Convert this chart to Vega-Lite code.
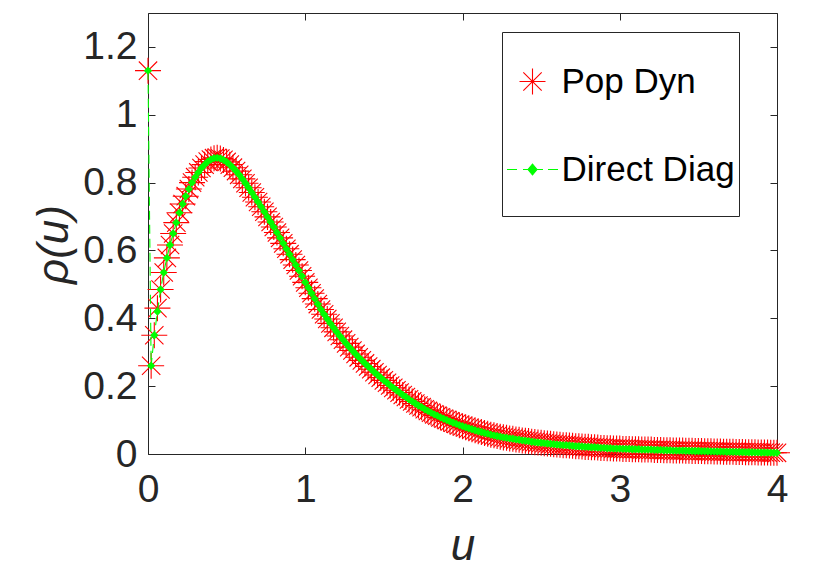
{
  "$schema": "https://vega.github.io/schema/vega-lite/v6.json",
  "width": 629,
  "height": 441,
  "autosize": {"type": "none"},
  "padding": {"left": 148, "top": 13, "right": 42, "bottom": 113},
  "background": "white",
  "config": {"view": {"stroke": "#262626", "strokeWidth": 1}, "font": "Liberation Sans"},
  "data": {"values": [
    {"u":0,"pop":1.13,"diag":1.13},{"u":0.02,"pop":0.26,"diag":0.26},{"u":0.04,"pop":0.35,"diag":0.35},{"u":0.06,"pop":0.43,"diag":0.42},{"u":0.08,"pop":0.485,"diag":0.485},
    {"u":0.1,"pop":0.535,"diag":0.535},{"u":0.12,"pop":0.578,"diag":0.578},{"u":0.14,"pop":0.616,"diag":0.616},{"u":0.16,"pop":0.65,"diag":0.65},{"u":0.18,"pop":0.682,"diag":0.682},
    {"u":0.2,"pop":0.711,"diag":0.711},{"u":0.22,"pop":0.737,"diag":0.737},{"u":0.24,"pop":0.76,"diag":0.76},{"u":0.26,"pop":0.781,"diag":0.781},{"u":0.28,"pop":0.8,"diag":0.8},
    {"u":0.3,"pop":0.816,"diag":0.816},{"u":0.32,"pop":0.83,"diag":0.83},{"u":0.34,"pop":0.843,"diag":0.843},{"u":0.36,"pop":0.853,"diag":0.853},{"u":0.38,"pop":0.862,"diag":0.862},
    {"u":0.4,"pop":0.868,"diag":0.868},{"u":0.42,"pop":0.872,"diag":0.872},{"u":0.44,"pop":0.873,"diag":0.873},{"u":0.46,"pop":0.871,"diag":0.871},{"u":0.48,"pop":0.867,"diag":0.867},
    {"u":0.5,"pop":0.861,"diag":0.861},{"u":0.52,"pop":0.853,"diag":0.853},{"u":0.54,"pop":0.844,"diag":0.844},{"u":0.56,"pop":0.834,"diag":0.834},{"u":0.58,"pop":0.823,"diag":0.823},
    {"u":0.6,"pop":0.811,"diag":0.811},{"u":0.62,"pop":0.798,"diag":0.798},{"u":0.64,"pop":0.785,"diag":0.785},{"u":0.66,"pop":0.771,"diag":0.771},{"u":0.68,"pop":0.757,"diag":0.757},
    {"u":0.7,"pop":0.743,"diag":0.743},{"u":0.72,"pop":0.729,"diag":0.729},{"u":0.74,"pop":0.714,"diag":0.714},{"u":0.76,"pop":0.699,"diag":0.699},{"u":0.78,"pop":0.684,"diag":0.684},
    {"u":0.8,"pop":0.669,"diag":0.669},{"u":0.82,"pop":0.653,"diag":0.653},{"u":0.84,"pop":0.637,"diag":0.637},{"u":0.86,"pop":0.621,"diag":0.621},{"u":0.88,"pop":0.605,"diag":0.605},
    {"u":0.9,"pop":0.589,"diag":0.589},{"u":0.92,"pop":0.573,"diag":0.573},{"u":0.94,"pop":0.557,"diag":0.557},{"u":0.96,"pop":0.541,"diag":0.541},{"u":0.98,"pop":0.524,"diag":0.524},
    {"u":1,"pop":0.506,"diag":0.506},{"u":1.02,"pop":0.49,"diag":0.49},{"u":1.04,"pop":0.474,"diag":0.474},{"u":1.06,"pop":0.458,"diag":0.458},{"u":1.08,"pop":0.442,"diag":0.442},
    {"u":1.1,"pop":0.426,"diag":0.426},{"u":1.12,"pop":0.412,"diag":0.412},{"u":1.14,"pop":0.398,"diag":0.398},{"u":1.16,"pop":0.385,"diag":0.385},{"u":1.18,"pop":0.372,"diag":0.372},
    {"u":1.2,"pop":0.36,"diag":0.36},{"u":1.22,"pop":0.348,"diag":0.348},{"u":1.24,"pop":0.337,"diag":0.337},{"u":1.26,"pop":0.326,"diag":0.326},{"u":1.28,"pop":0.315,"diag":0.315},
    {"u":1.3,"pop":0.305,"diag":0.305},{"u":1.32,"pop":0.295,"diag":0.295},{"u":1.34,"pop":0.285,"diag":0.285},{"u":1.36,"pop":0.276,"diag":0.276},{"u":1.38,"pop":0.267,"diag":0.267},
    {"u":1.4,"pop":0.258,"diag":0.258},{"u":1.42,"pop":0.25,"diag":0.25},{"u":1.44,"pop":0.241,"diag":0.241},{"u":1.46,"pop":0.233,"diag":0.233},{"u":1.48,"pop":0.225,"diag":0.225},
    {"u":1.5,"pop":0.217,"diag":0.217},{"u":1.52,"pop":0.21,"diag":0.21},{"u":1.54,"pop":0.202,"diag":0.202},{"u":1.56,"pop":0.195,"diag":0.195},{"u":1.58,"pop":0.188,"diag":0.188},
    {"u":1.6,"pop":0.181,"diag":0.181},{"u":1.62,"pop":0.174,"diag":0.174},{"u":1.64,"pop":0.168,"diag":0.168},{"u":1.66,"pop":0.161,"diag":0.161},{"u":1.68,"pop":0.155,"diag":0.155},
    {"u":1.7,"pop":0.149,"diag":0.149},{"u":1.72,"pop":0.143,"diag":0.143},{"u":1.74,"pop":0.138,"diag":0.138},{"u":1.76,"pop":0.132,"diag":0.132},{"u":1.78,"pop":0.127,"diag":0.127},
    {"u":1.8,"pop":0.122,"diag":0.122},{"u":1.82,"pop":0.117,"diag":0.117},{"u":1.84,"pop":0.113,"diag":0.113},{"u":1.86,"pop":0.108,"diag":0.108},{"u":1.88,"pop":0.104,"diag":0.104},
    {"u":1.9,"pop":0.1,"diag":0.1},{"u":1.92,"pop":0.096,"diag":0.096},{"u":1.94,"pop":0.092,"diag":0.092},{"u":1.96,"pop":0.089,"diag":0.089},{"u":1.98,"pop":0.085,"diag":0.085},
    {"u":2,"pop":0.082,"diag":0.082},{"u":2.02,"pop":0.079,"diag":0.079},{"u":2.04,"pop":0.076,"diag":0.076},{"u":2.06,"pop":0.073,"diag":0.073},{"u":2.08,"pop":0.07,"diag":0.07},
    {"u":2.1,"pop":0.067,"diag":0.067},{"u":2.12,"pop":0.065,"diag":0.065},{"u":2.14,"pop":0.062,"diag":0.062},{"u":2.16,"pop":0.06,"diag":0.06},{"u":2.18,"pop":0.057,"diag":0.057},
    {"u":2.2,"pop":0.055,"diag":0.055},{"u":2.22,"pop":0.053,"diag":0.053},{"u":2.24,"pop":0.051,"diag":0.051},{"u":2.26,"pop":0.049,"diag":0.049},{"u":2.28,"pop":0.048,"diag":0.048},
    {"u":2.3,"pop":0.046,"diag":0.046},{"u":2.32,"pop":0.045,"diag":0.045},{"u":2.34,"pop":0.043,"diag":0.043},{"u":2.36,"pop":0.042,"diag":0.042},{"u":2.38,"pop":0.04,"diag":0.04},
    {"u":2.4,"pop":0.039,"diag":0.039},{"u":2.42,"pop":0.038,"diag":0.038},{"u":2.44,"pop":0.036,"diag":0.036},{"u":2.46,"pop":0.035,"diag":0.035},{"u":2.48,"pop":0.034,"diag":0.034},
    {"u":2.5,"pop":0.033,"diag":0.033},{"u":2.52,"pop":0.032,"diag":0.032},{"u":2.54,"pop":0.031,"diag":0.031},{"u":2.56,"pop":0.03,"diag":0.03},{"u":2.58,"pop":0.029,"diag":0.029},
    {"u":2.6,"pop":0.028,"diag":0.028},{"u":2.62,"pop":0.027,"diag":0.027},{"u":2.64,"pop":0.026,"diag":0.026},{"u":2.66,"pop":0.026,"diag":0.026},{"u":2.68,"pop":0.025,"diag":0.025},
    {"u":2.7,"pop":0.024,"diag":0.024},{"u":2.72,"pop":0.023,"diag":0.023},{"u":2.74,"pop":0.023,"diag":0.023},{"u":2.76,"pop":0.022,"diag":0.022},{"u":2.78,"pop":0.021,"diag":0.021},
    {"u":2.8,"pop":0.021,"diag":0.021},{"u":2.82,"pop":0.02,"diag":0.02},{"u":2.84,"pop":0.02,"diag":0.02},{"u":2.86,"pop":0.019,"diag":0.019},{"u":2.88,"pop":0.018,"diag":0.018},
    {"u":2.9,"pop":0.018,"diag":0.018},{"u":2.92,"pop":0.017,"diag":0.017},{"u":2.94,"pop":0.017,"diag":0.017},{"u":2.96,"pop":0.016,"diag":0.016},{"u":2.98,"pop":0.016,"diag":0.016},
    {"u":3,"pop":0.016,"diag":0.016},{"u":3.02,"pop":0.015,"diag":0.015},{"u":3.04,"pop":0.015,"diag":0.015},{"u":3.06,"pop":0.015,"diag":0.015},{"u":3.08,"pop":0.014,"diag":0.014},
    {"u":3.1,"pop":0.014,"diag":0.014},{"u":3.12,"pop":0.014,"diag":0.014},{"u":3.14,"pop":0.013,"diag":0.013},{"u":3.16,"pop":0.013,"diag":0.013},{"u":3.18,"pop":0.013,"diag":0.013},
    {"u":3.2,"pop":0.013,"diag":0.013},{"u":3.22,"pop":0.012,"diag":0.012},{"u":3.24,"pop":0.012,"diag":0.012},{"u":3.26,"pop":0.012,"diag":0.012},{"u":3.28,"pop":0.011,"diag":0.011},
    {"u":3.3,"pop":0.011,"diag":0.011},{"u":3.32,"pop":0.011,"diag":0.011},{"u":3.34,"pop":0.01,"diag":0.01},{"u":3.36,"pop":0.01,"diag":0.01},{"u":3.38,"pop":0.01,"diag":0.01},
    {"u":3.4,"pop":0.01,"diag":0.01},{"u":3.42,"pop":0.0097,"diag":0.0097},{"u":3.44,"pop":0.0094,"diag":0.0094},{"u":3.46,"pop":0.0092,"diag":0.0092},{"u":3.48,"pop":0.009,"diag":0.009},
    {"u":3.5,"pop":0.0088,"diag":0.0088},{"u":3.52,"pop":0.0086,"diag":0.0086},{"u":3.54,"pop":0.0083,"diag":0.0083},{"u":3.56,"pop":0.0081,"diag":0.0081},{"u":3.58,"pop":0.0078,"diag":0.0078},
    {"u":3.6,"pop":0.0076,"diag":0.0076},{"u":3.62,"pop":0.0074,"diag":0.0074},{"u":3.64,"pop":0.0072,"diag":0.0072},{"u":3.66,"pop":0.0069,"diag":0.0069},{"u":3.68,"pop":0.0067,"diag":0.0067},
    {"u":3.7,"pop":0.0065,"diag":0.0065},{"u":3.72,"pop":0.0063,"diag":0.0063},{"u":3.74,"pop":0.0061,"diag":0.0061},{"u":3.76,"pop":0.0059,"diag":0.0059},{"u":3.78,"pop":0.0057,"diag":0.0057},
    {"u":3.8,"pop":0.0055,"diag":0.0055},{"u":3.82,"pop":0.0053,"diag":0.0053},{"u":3.84,"pop":0.0051,"diag":0.0051},{"u":3.86,"pop":0.0049,"diag":0.0049},{"u":3.88,"pop":0.0047,"diag":0.0047},
    {"u":3.9,"pop":0.0045,"diag":0.0045},{"u":3.92,"pop":0.0043,"diag":0.0043},{"u":3.94,"pop":0.0041,"diag":0.0041},{"u":3.96,"pop":0.0039,"diag":0.0039},{"u":3.98,"pop":0.0037,"diag":0.0037},
    {"u":4,"pop":0.0035,"diag":0.0035}
  ]},
  "layer": [
    {
      "mark": {"type": "point", "filled": true, "strokeWidth": 1.1, "size": 8100, "opacity": 1},
      "encoding": {
        "x": {"field": "u", "type": "quantitative", "scale": {"domain": [0, 4], "nice": false, "zero": false},
          "axis": {"orient": "bottom", "values": [0, 1, 2, 3, 4], "format": "d", "grid": false, "domain": false,
            "labelFontSize": 39, "labelFont": "Liberation Sans", "labelColor": "#262626", "labelPadding": 23, "labelFlush": false, "labelOverlap": false,
            "tickSize": -7, "tickColor": "#262626", "tickWidth": 1,
            "title": "u", "titleFont": "Liberation Sans", "titleFontSize": 44, "titleFontStyle": "italic", "titleFontWeight": "normal", "titleColor": "#262626",
            "titleBaseline": "alphabetic", "titleAnchor": "middle", "titleX": 314.5, "titleY": 105}},
        "y": {"field": "pop", "type": "quantitative", "scale": {"domain": [0, 1.3], "nice": false, "zero": false},
          "axis": {"orient": "left", "values": [0, 0.2, 0.4, 0.6, 0.8, 1, 1.2], "format": "~g", "grid": false, "domain": false,
            "labelFontSize": 39, "labelFont": "Liberation Sans", "labelColor": "#262626", "labelPadding": 18, "labelFlush": false, "labelOverlap": false,
            "tickSize": -7, "tickColor": "#262626", "tickWidth": 1,
            "title": "ρ(u)", "titleFont": "Liberation Sans", "titleFontSize": 44, "titleFontStyle": "italic", "titleFontWeight": "normal", "titleColor": "#262626",
            "titleAngle": 270, "titleBaseline": "alphabetic", "titleAnchor": "middle", "titleX": -81, "titleY": 231}},
        "stroke": {"datum": "Pop Dyn", "scale": {"domain": ["Pop Dyn", "Direct Diag"], "range": ["#ff0000", "#00ff00"]}},
        "fill": {"datum": "Pop Dyn", "scale": {"domain": ["Pop Dyn", "Direct Diag"], "range": ["transparent", "#00ff00"]}},
        "shape": {"datum": "Pop Dyn",
          "scale": {"domain": ["Pop Dyn", "Direct Diag"],
            "range": ["M-0.289,0L0.289,0M0,-0.289L0,0.289M-0.204,-0.204L0.204,0.204M-0.204,0.204L0.204,-0.204",
                      "M-0.567,0L-0.344,0M-0.211,0L-0.1,0M0.1,0L0.233,0M0.344,0L0.567,0M0,-0.122L0.1,0L0,0.122L-0.1,0Z"]},
          "legend": {"orient": "none", "legendX": 354, "legendY": 19, "title": " ", "titleOrient": "bottom", "titleFontSize": 8, "titlePadding": 17,
            "symbolSize": 8100, "symbolStrokeWidth": 1.1, "symbolOffset": -19,
            "labelFontSize": 35, "labelFont": "Liberation Sans", "labelColor": "#000000", "labelOffset": -17, "labelLimit": 400,
            "labelExpr": "datum.label + '  '",
            "padding": 3.5, "rowPadding": 24, "strokeColor": "#262626", "fillColor": "white"}}
      }
    },
    {
      "mark": {"type": "line", "stroke": "#00ff00", "strokeWidth": 1.1, "strokeDash": [9, 5]},
      "encoding": {
        "x": {"field": "u", "type": "quantitative", "scale": {"domain": [0, 4], "nice": false, "zero": false},
          "axis": {"orient": "top", "values": [0, 1, 2, 3, 4], "labels": false, "title": null, "grid": false, "domain": false, "tickSize": -7, "tickColor": "#262626"}},
        "y": {"field": "diag", "type": "quantitative", "scale": {"domain": [0, 1.3], "nice": false, "zero": false},
          "axis": {"orient": "right", "values": [0, 0.2, 0.4, 0.6, 0.8, 1, 1.2], "labels": false, "title": null, "grid": false, "domain": false, "tickSize": -7, "tickColor": "#262626"}}
      }
    },
    {
      "mark": {"type": "point", "shape": "diamond", "filled": true, "color": "#00ff00", "size": 70, "opacity": 1},
      "encoding": {
        "x": {"field": "u", "type": "quantitative", "axis": null},
        "y": {"field": "diag", "type": "quantitative", "axis": null}
      }
    }
  ],
  "resolve": {"axis": {"x": "independent", "y": "independent"}}
}
